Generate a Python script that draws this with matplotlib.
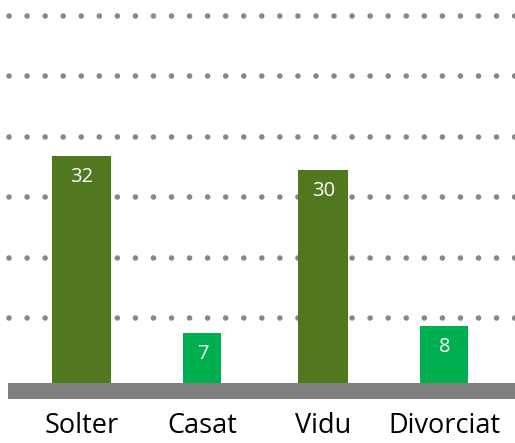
import numpy as np
import matplotlib
matplotlib.use("Agg")
import matplotlib.pyplot as plt
from matplotlib.patches import Rectangle

# Data
categories = ["Solter", "Casat", "Vidu", "Divorciat"]
values = [32, 7, 30, 8]

# Style
colors = ["#52781F", "#00B050", "#52781F", "#00B050"]
widths_px = [59, 38, 50, 48]
W, H = 515, 443
px_per_unit = 7.1     # vertical scale, pixels per value unit
px_per_cat = 121      # horizontal spacing between categories
first_center = 81.5   # pixel x of first category
base_px = 383         # pixel y of zero line (from top)

plt.rcParams["font.family"] = ["Open Sans", "DejaVu Sans"]

fig = plt.figure(figsize=(W / 100, H / 100), dpi=100)
ax = fig.add_axes([0, (H - base_px) / H, 1, base_px / H])
ax.set_ylim(0, base_px / px_per_unit)
ax.set_xlim(-first_center / px_per_cat, (W - first_center) / px_per_cat)
ax.axis("off")

# dotted gridlines
grid_px = 65 + 60.5 * np.arange(6)
for gp in grid_px:
    ax.axhline(gp / px_per_unit, xmin=9 / W, xmax=1, color="#878787", lw=4.0,
               linestyle=(0, (0.01, 3.24)), dash_capstyle="round", zorder=0)

# grey base band
ax.add_patch(Rectangle((8 / W, -16 / base_px), 1, 16 / base_px, transform=ax.transAxes,
                       clip_on=False, color="#808080", lw=0, zorder=1))

x = np.arange(len(categories))
widths = np.array(widths_px) / px_per_cat
bars = ax.bar(x, values, width=widths, color=colors, zorder=2)

for rect, v in zip(bars, values):
    ax.annotate(str(v), (rect.get_x() + rect.get_width() / 2, v),
                xytext=(0, -21 * 0.72), textcoords="offset points",
                ha="center", va="center", color="white", fontsize=14.5, zorder=3)

for xi, cat in zip(x, categories):
    ax.annotate(cat, (xi, 0), xytext=(0, -50 * 0.72), textcoords="offset points",
                ha="center", va="baseline", color="black", fontsize=19.5,
                annotation_clip=False)

fig.savefig("out.png", dpi=100)
